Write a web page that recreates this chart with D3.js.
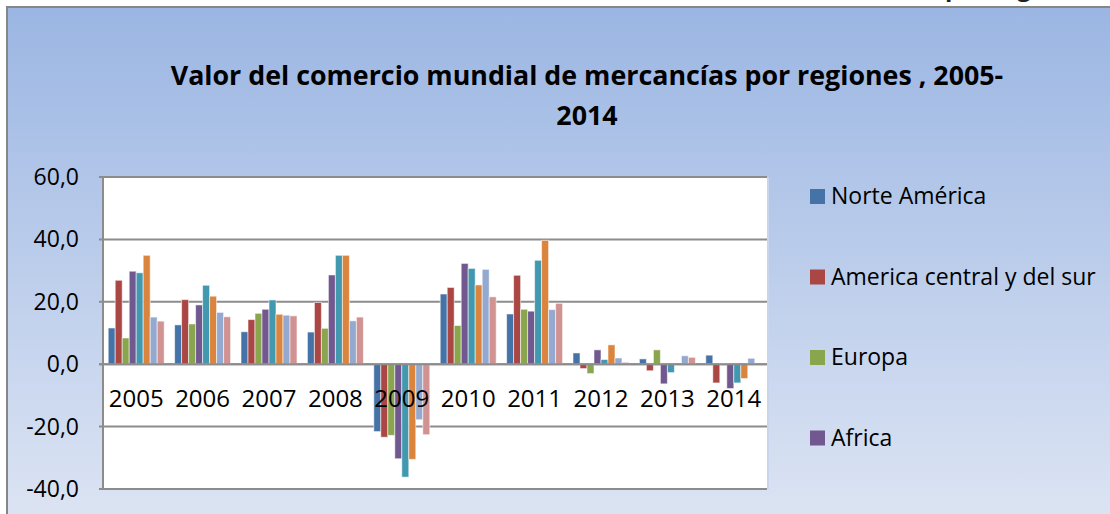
<!DOCTYPE html>
<html>
<head>
<meta charset="utf-8">
<script src="https://cdn.jsdelivr.net/npm/d3@7/dist/d3.min.js"></script>
<style>
  html, body { margin: 0; padding: 0; background: #fff; overflow: hidden; }
  text { font-family: "Open Sans", "Noto Sans", sans-serif; fill: #000; }
</style>
</head>
<body>
<div id="chart"></div>
<script>
const years = ['2005', '2006', '2007', '2008', '2009', '2010', '2011', '2012', '2013', '2014'];
const regions = ['Norte América', 'America central y del sur', 'Europa', 'Africa',
  'Asia', 'Oriente Medio', 'CEI', 'Mundo'];
const colors = ['#4572A7', '#AA4643', '#89A54E', '#71588F', '#4198AF', '#DB843D', '#93A9CF', '#D19392'];

// one array per region, values per year
const norteAmerica = [11.6, 12.6, 10.4, 10.3, -21.6, 22.5, 16.1, 3.6, 1.7, 2.9];
const americaCentralSur = [26.9, 20.7, 14.3, 19.8, -23.4, 24.6, 28.5, -1.4, -2.1, -6.0];
const europa = [8.4, 12.9, 16.3, 11.5, -22.8, 12.4, 17.6, -3.0, 4.6, 0.2];
const africa = [29.8, 19.0, 17.6, 28.6, -30.3, 32.3, 17.0, 4.6, -6.3, -7.8];
const asia = [29.3, 25.3, 20.6, 34.9, -36.2, 30.7, 33.3, 1.5, -2.7, -6.0];
const orienteMedio = [34.9, 21.8, 16.0, 34.9, -30.5, 25.4, 39.7, 6.2, 0.0, -4.6];
const cei = [15.1, 16.6, 15.7, 13.9, -17.8, 30.4, 17.5, 2.0, 2.7, 1.9];
const mundo = [13.8, 15.2, 15.5, 15.1, -22.6, 21.6, 19.5, 0.6, 2.2, 0.0];
const seriesValues = [norteAmerica, americaCentralSur, europa, africa, asia, orienteMedio, cei, mundo];

const yTicks = [-40, -20, 0, 20, 40, 60];
const titleLines = ['Valor del comercio mundial de mercancías por regiones , 2005-', '2014'];

const W = 1110, H = 514;
const plot = { left: 103, right: 767, top: 177, bottom: 489 };

const svg = d3.select('#chart').append('svg')
  .attr('width', W)
  .attr('height', H);

const defs = svg.append('defs');
const grad = defs.append('linearGradient')
  .attr('id', 'bg')
  .attr('x1', 0).attr('y1', 0).attr('x2', 0).attr('y2', 1);
grad.append('stop').attr('offset', '0%').attr('stop-color', '#9bb6e3');
grad.append('stop').attr('offset', '100%').attr('stop-color', '#dfe6f4');

// chart area background and frame
svg.append('rect')
  .attr('x', 7).attr('y', 7)
  .attr('width', W).attr('height', H + 20)
  .attr('fill', 'url(#bg)')
  .attr('stroke', '#868686')
  .attr('stroke-width', 2);

// cut-off heading above the frame
svg.append('text')
  .attr('x', 945).attr('y', -4)
  .attr('font-size', 24)
  .attr('font-weight', 'bold')
  .style('fill', '#222')
  .text('por reg');

// title
svg.append('g').selectAll('text')
  .data(titleLines)
  .enter()
  .append('text')
  .attr('x', 587)
  .attr('y', (d, i) => 85 + i * 40)
  .attr('text-anchor', 'middle')
  .attr('font-size', 26.8)
  .attr('font-weight', 'bold')
  .text(d => d);

const x0 = d3.scaleBand()
  .domain(years)
  .range([plot.left, plot.right])
  .paddingInner(0.157)
  .paddingOuter(0.0785);

const x1 = d3.scaleBand()
  .domain(d3.range(regions.length))
  .range([0, x0.bandwidth()]);

const y = d3.scaleLinear()
  .domain([-40, 60])
  .range([plot.bottom, plot.top]);

// plot area
svg.append('rect')
  .attr('x', plot.left).attr('y', plot.top)
  .attr('width', plot.right - plot.left)
  .attr('height', plot.bottom - plot.top)
  .attr('fill', '#fff');

svg.append('line')
  .attr('x1', plot.right + 1).attr('x2', plot.right + 1)
  .attr('y1', plot.top).attr('y2', plot.bottom)
  .attr('stroke', '#c9d5ec')
  .attr('stroke-width', 2);

// gridlines
svg.append('g').selectAll('line')
  .data(yTicks)
  .enter()
  .append('line')
  .attr('x1', plot.left - 4)
  .attr('x2', plot.right)
  .attr('y1', d => y(d))
  .attr('y2', d => y(d))
  .attr('stroke', '#8c8c8c')
  .attr('stroke-width', 2);

// y axis labels
const fmt = d => d3.format('.1f')(d).replace('.', ',').replace('−', '-');
svg.append('g').selectAll('text')
  .data(yTicks)
  .enter()
  .append('text')
  .attr('x', 79)
  .attr('y', d => y(d))
  .attr('dy', '0.35em')
  .attr('text-anchor', 'end')
  .attr('font-size', 23)
  .text(d => fmt(d));

// bars
const groups = svg.append('g').selectAll('g')
  .data(years)
  .enter()
  .append('g')
  .attr('transform', d => 'translate(' + x0(d) + ',0)');

groups.selectAll('rect')
  .data((d, i) => seriesValues.map((s, k) => ({ k: k, v: s[i] })))
  .enter()
  .append('rect')
  .attr('x', d => x1(d.k))
  .attr('y', d => y(Math.max(0, d.v)))
  .attr('width', x1.bandwidth())
  .attr('height', d => Math.abs(y(d.v) - y(0)))
  .attr('fill', d => colors[d.k])
  .attr('stroke', 'rgba(255,255,255,0.55)')
  .attr('stroke-width', 1);

// zero line on top of bars
svg.append('line')
  .attr('x1', plot.left - 4).attr('x2', plot.right)
  .attr('y1', y(0)).attr('y2', y(0))
  .attr('stroke', '#8c8c8c')
  .attr('stroke-width', 2);

// y axis line
svg.append('line')
  .attr('x1', plot.left).attr('x2', plot.left)
  .attr('y1', plot.top - 1).attr('y2', plot.bottom + 1)
  .attr('stroke', '#8c8c8c')
  .attr('stroke-width', 2);

// category labels
svg.append('g').selectAll('text')
  .data(years)
  .enter()
  .append('text')
  .attr('x', d => x0(d) + x0.bandwidth() / 2)
  .attr('y', 407)
  .attr('text-anchor', 'middle')
  .attr('font-size', 24)
  .text(d => d);

// legend: only the entries that fit inside the picture are shown
const legendStep = 80.5;
const legendItems = regions.filter((d, i) => 196 + i * legendStep + 12 < H);
const legend = svg.append('g').selectAll('g')
  .data(legendItems)
  .enter()
  .append('g')
  .attr('transform', (d, i) => 'translate(810,' + (196 + i * legendStep) + ')');

legend.append('rect')
  .attr('x', 0).attr('y', -7)
  .attr('width', 15).attr('height', 15)
  .attr('fill', (d, i) => colors[i]);

legend.append('text')
  .attr('x', 21)
  .attr('y', 0)
  .attr('dy', '0.35em')
  .attr('font-size', 23)
  .text(d => d);
</script>
</body>
</html>
